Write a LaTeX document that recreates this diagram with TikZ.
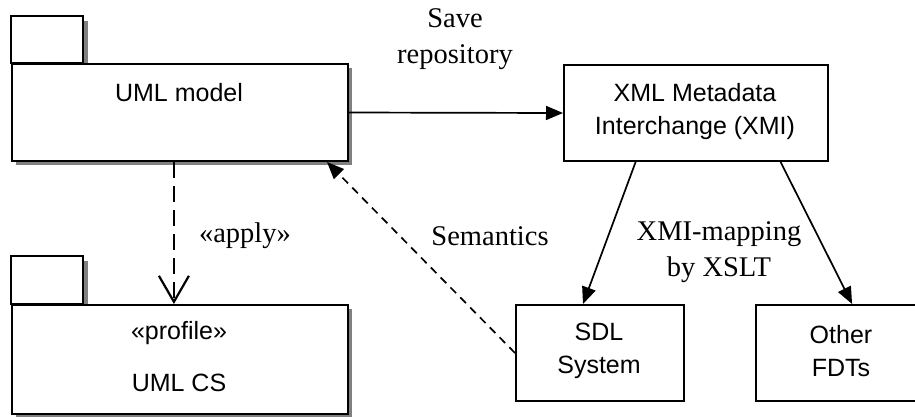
\documentclass[tikz,border=0pt]{standalone}
\usepackage{fontspec}
\setmainfont{Liberation Serif}
\setsansfont{Liberation Sans}
\usetikzlibrary{arrows.meta,calc}
\begin{document}
\begin{tikzpicture}[x=1pt,y=-1pt,
  box/.style={draw, line width=2pt, fill=white, inner sep=0pt, anchor=north west},
  shade/.style={fill=black!50},
  sanstext/.style={font=\sffamily\fontsize{25}{33}\selectfont, align=center, inner sep=0pt},
  lbl/.style={font=\rmfamily\fontsize{28.5}{36}\selectfont, align=center, inner sep=0pt},
  solidarrow/.style={line width=1.7pt, -{Triangle[length=17pt,width=14pt]}},
  semarrow/.style={line width=1.7pt, dash pattern=on 8pt off 6pt, -{Triangle[length=17pt,width=14pt]}},
  applyarrow/.style={line width=2.4pt, dash pattern=on 16pt off 8pt, -{Straight Barb[length=26pt,width=30pt,line width=2.2pt]}}
]
\clip (0,0) rectangle (915,416);
\fill[white] (0,0) rectangle (915,416);

% UML model package
\fill[shade] (16,21) rectangle (88,68);
\fill[shade] (16,68) rectangle (352,165);
\draw[line width=2pt, fill=white] (11,16) rectangle (83,63);
\node[box, minimum width=336pt, minimum height=97pt] (uml) at (11,63) {};
\node[sanstext] (umltext) at (179,93) {UML model};

% UML CS package
\fill[shade] (16,261) rectangle (88,309);
\fill[shade] (16,309) rectangle (352,417);
\draw[line width=2pt, fill=white] (11,256) rectangle (83,304);
\node[box, minimum width=336pt, minimum height=109pt] (umlcs) at (11,304) {};
\node[sanstext] (profile) at (179,333) {«profile»};
\node[sanstext] (umlcstext) at (179,383) {UML CS};

% XMI
\node[box, minimum width=264pt, minimum height=96pt] (xmi) at (563,64) {};
\node[sanstext] (xmitext) at (695,112) {XML Metadata\\Interchange (XMI)};

% SDL
\node[box, minimum width=168pt, minimum height=96pt] (sdl) at (515,304) {};
\node[sanstext] (sdltext) at (599,351) {SDL\\System};

% Other FDTs
\node[box, minimum width=172pt, minimum height=96pt] (fdt) at (755,304) {};
\node[sanstext] (fdttext) at (841,351) {Other\\FDTs};

% connectors
\draw[solidarrow] (uml.east) -- (xmi.west);
\draw[solidarrow] ($(xmi.south west)!0.273!(xmi.south east)$) -- ($(sdl.north west)!0.4!(sdl.north east)$);
\draw[solidarrow] ($(xmi.south west)!0.818!(xmi.south east)$) -- ($(fdt.north west)!0.558!(fdt.north east)$);
\draw[semarrow] (sdl.west) -- ($(uml.south west)!0.935!(uml.south east)$);
\draw[applyarrow] ($(uml.south west)!0.482!(uml.south east)$) -- ($(umlcs.north west)!0.482!(umlcs.north east)$);

% labels
\node[lbl] (save) at (455,39) {Save\\repository};
\node[lbl] (apply) at (245,236) {«apply»};
\node[lbl] (sem) at (490,236) {Semantics};
\node[lbl] (xslt) at (719,252) {XMI-mapping\\by XSLT};
\end{tikzpicture}
\end{document}
